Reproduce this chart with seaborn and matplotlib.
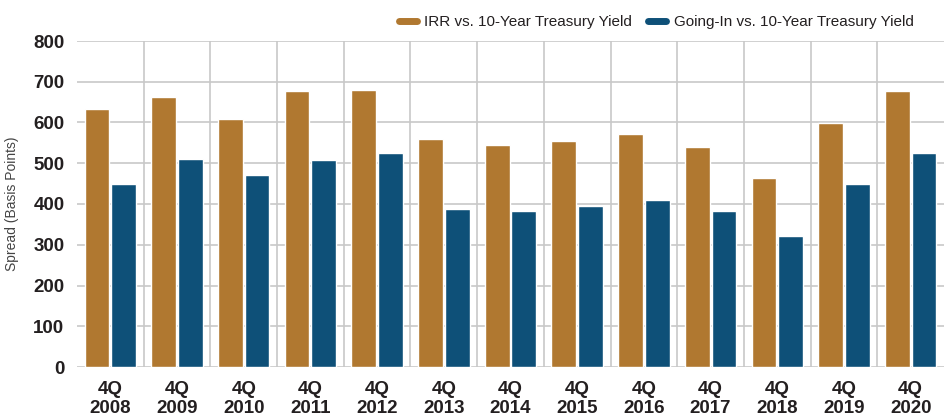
import pandas as pd
import seaborn as sns
import matplotlib.pyplot as plt
from matplotlib.lines import Line2D

# Data (basis points)
quarters = ['4Q\n2008', '4Q\n2009', '4Q\n2010', '4Q\n2011', '4Q\n2012', '4Q\n2013', '4Q\n2014',
            '4Q\n2015', '4Q\n2016', '4Q\n2017', '4Q\n2018', '4Q\n2019', '4Q\n2020']
irr_spread = [632, 662, 608, 677, 679, 559, 546, 554, 573, 541, 465, 598, 677]
going_in_spread = [448, 510, 470, 507, 524, 387, 384, 394, 409, 384, 321, 450, 526]
series_names = ['IRR vs. 10-Year Treasury Yield', 'Going-In vs. 10-Year Treasury Yield']
colors = ['#B07830', '#0E5078']

df = pd.DataFrame({
    'Quarter': quarters * 2,
    'Spread': irr_spread + going_in_spread,
    'Series': [series_names[0]] * len(quarters) + [series_names[1]] * len(quarters),
})

sns.set_theme(style="white")
plt.rcParams['font.family'] = ['Liberation Sans', 'DejaVu Sans']

fig = plt.figure(figsize=(9.48, 4.2), dpi=100)
ax = fig.add_axes([77 / 948, 1 - 367 / 420, 867 / 948, 326 / 420])

sns.barplot(data=df, x='Quarter', y='Spread', hue='Series', palette=colors,
            width=0.8, gap=0.07, saturation=1, ax=ax, legend=False, zorder=3)

ax.set_xlim(-0.5, len(quarters) - 0.5)
ax.set_ylim(0, 800)
ax.set_yticks(range(0, 801, 100))
ax.set_xticks(range(len(quarters)))
ax.set_xticks([i + 0.5 for i in range(len(quarters) - 1)], minor=True)

ax.grid(axis='y', which='major', color='#c8c8c8', linewidth=1.2, zorder=0)
ax.grid(axis='x', which='minor', color='#c8c8c8', linewidth=1.2, zorder=0)
ax.grid(axis='x', which='major', visible=False)
for s in ax.spines.values():
    s.set_visible(False)

ax.tick_params(axis='both', which='both', length=0)
ax.tick_params(axis='y', pad=9)
ax.tick_params(axis='x', pad=10)
for lab in ax.get_yticklabels():
    lab.set_fontsize(13.5)
    lab.set_fontweight('bold')
    lab.set_color('#231f20')
for lab in ax.get_xticklabels():
    lab.set_fontsize(13.5)
    lab.set_fontweight('bold')
    lab.set_color('#231f20')
    lab.set_linespacing(1.15)

ax.set_xlabel('')
ax.set_ylabel('Spread (Basis Points)', fontsize=10, color='#444444', labelpad=10)

handles = [Line2D([0], [0], color=c, linewidth=5, solid_capstyle='round') for c in colors]
fig.legend(handles, series_names, loc='center', bbox_to_anchor=(656 / 948, 1 - 22 / 420),
           ncol=2, frameon=False, handlelength=1.2, handletextpad=0.5, columnspacing=1.0,
           prop={'size': 11}, labelcolor='#231f20')

fig.savefig('out.png', dpi=100)
